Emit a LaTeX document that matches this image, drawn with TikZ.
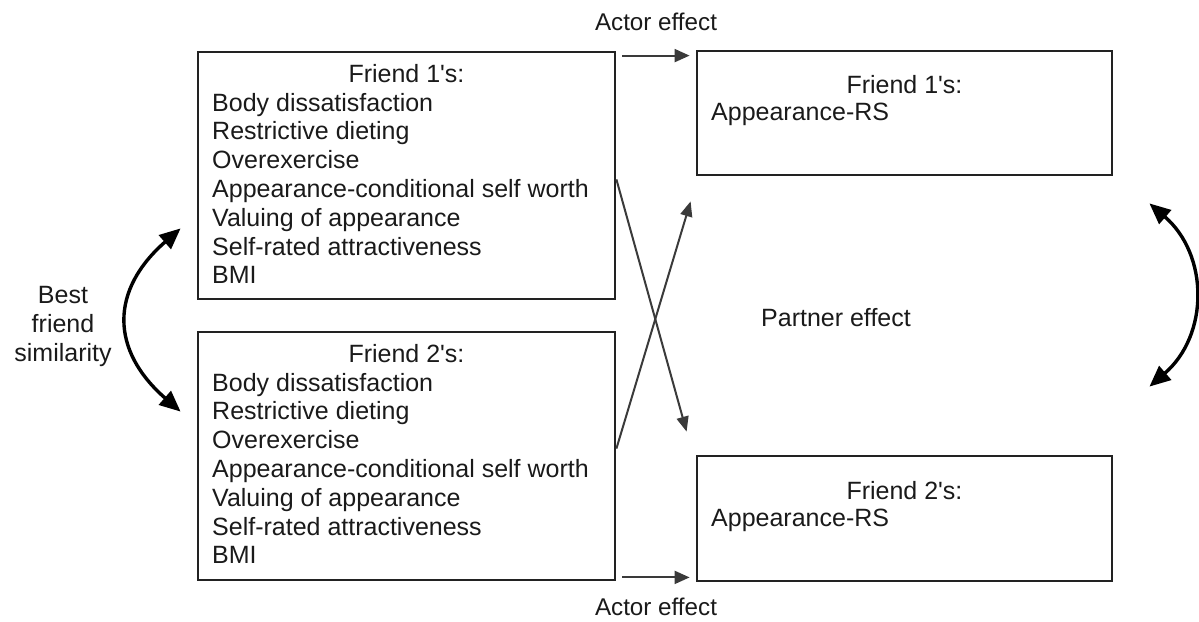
\documentclass[tikz,border=0pt]{standalone}
\usepackage{fontspec}
\setmainfont{Liberation Sans}
\usetikzlibrary{arrows.meta}
\definecolor{boxc}{HTML}{222222}
\definecolor{arrc}{HTML}{3A3A3A}
\definecolor{txtc}{HTML}{1A1A1A}
\newcommand{\apo}{\textquotesingle}
\begin{document}
\begin{tikzpicture}[x=1pt,y=-1pt,
  box/.style={draw=boxc, line width=2.8pt, inner sep=0pt},
  lbl/.style={font=\fontsize{25}{28.8}\selectfont, text=txtc, inner sep=0pt},
  small/.style={lbl, font=\fontsize{24.2}{28.8}\selectfont},
  item/.style={lbl, align=left, anchor=base west},
  ttl/.style={lbl, anchor=base},
  actor/.style={draw=arrc, line width=2pt, -{Triangle[length=15pt,width=13pt]}},
  swing/.style={draw=black, line width=3.4pt, {Triangle[length=21pt,width=18pt]}-{Triangle[length=21pt,width=18pt]}}
]
\useasboundingbox (0,0) rectangle (1199,621);

% boxes
\node[box, minimum width=417pt, minimum height=247pt] (L1) at (406.5,175.5) {};
\node[box, minimum width=417pt, minimum height=248pt] (L2) at (406.5,456) {};
\node[box, minimum width=415pt, minimum height=124pt] (R1) at (904.5,113) {};
\node[box, minimum width=415pt, minimum height=125pt] (R2) at (904.5,518.5) {};

% texts in left boxes (base = baseline of the last line)
\node[ttl] (L1t) at (406.5,82) {Friend 1\apo s:};
\node[item] (L1i) at (212,283.8) {Body dissatisfaction\\Restrictive dieting\\Overexercise\\Appearance-conditional self worth\\Valuing of appearance\\Self-rated attractiveness\\BMI};
\node[ttl] (L2t) at (406.5,362) {Friend 2\apo s:};
\node[item] (L2i) at (212,563.8) {Body dissatisfaction\\Restrictive dieting\\Overexercise\\Appearance-conditional self worth\\Valuing of appearance\\Self-rated attractiveness\\BMI};

% texts in right boxes
\node[ttl] (R1t) at (904.5,93) {Friend 1\apo s:};
\node[item] (R1i) at (711,120) {Appearance-RS};
\node[ttl] (R2t) at (904.5,499) {Friend 2\apo s:};
\node[item] (R2i) at (711,526) {Appearance-RS};

% labels
\node[small, anchor=base] (a1) at (656,30) {Actor effect};
\node[small, anchor=base] (a2) at (656,615) {Actor effect};
\node[ttl] (pe) at (836,326) {Partner effect};
\node[lbl, align=center, anchor=base] (bfs) at (63,361) {Best\\friend\\similarity};

% actor arrows
\draw[actor] ([xshift=6pt,yshift=-5pt]L1.north east) -- ([xshift=-6pt,yshift=-6pt]R1.north west);
\draw[actor] ([xshift=6pt,yshift=4pt]L2.south east) -- ([xshift=-6pt,yshift=5pt]R2.south west);

% partner arrows
\draw[actor, -{Triangle[length=15pt,width=12pt]}] ([yshift=121pt]L1.south east) -- ([xshift=-9pt,yshift=23pt]R2.north west);
\draw[actor, -{Triangle[length=15pt,width=12pt]}] ([yshift=-118pt]L2.north east) -- ([xshift=-5pt,yshift=-25pt]R1.south west);

% similarity arrows
\coordinate (s1) at ([xshift=-16pt,yshift=72pt]L1.south west);
\coordinate (s2) at ([xshift=-16pt,yshift=-81pt]L2.north west);
\draw[swing] (s1) .. controls (110,290) and (110,350) .. (s2);
\coordinate (t1) at ([xshift=36pt,yshift=-27pt]R1.south east);
\coordinate (t2) at ([xshift=36pt,yshift=68pt]R2.north east);
\draw[swing] (t1) .. controls (1209,255) and (1209,335) .. (t2);
\end{tikzpicture}
\end{document}
